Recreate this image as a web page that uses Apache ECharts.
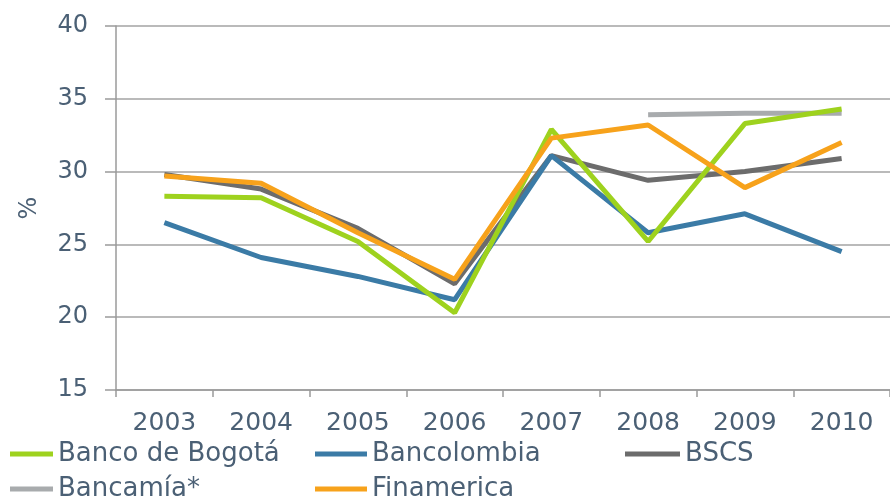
<!DOCTYPE html>
<html>
<head>
<meta charset="utf-8">
<script src="https://cdn.jsdelivr.net/npm/echarts@6/dist/echarts.min.js"></script>
<style>html,body{margin:0;padding:0;background:#fff;}#c{width:890px;height:500px;}</style>
</head>
<body>
<div id="c"></div>
<script>
var years = ['2003','2004','2005','2006','2007','2008','2009','2010'];
var bancoBogota = [28.3, 28.2, 25.2, 20.3, 32.9, 25.2, 33.3, 34.3];
var bancolombia = [26.5, 24.1, 22.8, 21.2, 31.1, 25.8, 27.1, 24.5];
var bscs        = [29.8, 28.8, 26.1, 22.3, 31.1, 29.4, 30.0, 30.9];
var bancamia    = [null, null, null, null, null, 33.9, 34.0, 34.0];
var finamerica  = [29.7, 29.2, 25.8, 22.6, 32.3, 33.2, 28.9, 32.0];
var yTicks = [15, 20, 25, 30, 35, 40];

var txt = '#4b6075';
var font = 'DejaVu Sans';
var colors = {
  'Banco de Bogotá': '#9ed21e',
  'Bancolombia': '#3b7ba6',
  'BSCS': '#6c6c6c',
  'Bancamía*': '#a8abad',
  'Finamerica': '#f7a21b'
};
function mk(name, data) {
  return {
    name: name, type: 'line', data: data, symbol: 'none',
    lineStyle: {width: 5, color: colors[name]}, itemStyle: {color: colors[name]},
    connectNulls: false, animation: false
  };
}
var legText = {color: txt, fontFamily: font, fontSize: 26, lineHeight: 26};
function leg(name, left, top, w) {
  return {left: left, top: top, icon: 'rect', itemWidth: w, itemHeight: 5, padding: 0,
          data: [name], textStyle: legText};
}
var chart = echarts.init(document.getElementById('c'), null, {renderer: 'canvas'});
chart.setOption({
  animation: false,
  grid: {left: 116, right: -8, top: 26, bottom: 110},
  xAxis: {
    type: 'category', data: years, boundaryGap: true,
    axisLine: {lineStyle: {color: '#9a9a9a', width: 1.5}},
    axisTick: {show: true, length: 7, lineStyle: {color: '#9a9a9a', width: 1.5}},
    axisLabel: {color: txt, fontFamily: font, fontSize: 25, margin: 21}
  },
  yAxis: {
    type: 'value', min: yTicks[0], max: yTicks[yTicks.length-1], interval: 5,
    name: '%', nameLocation: 'middle', nameRotate: 90, nameGap: 74,
    nameTextStyle: {color: txt, fontFamily: font, fontSize: 24},
    axisLine: {show: true, lineStyle: {color: '#9a9a9a', width: 1.5}},
    axisTick: {show: true, length: 11, lineStyle: {color: '#9a9a9a', width: 1.5}},
    splitLine: {lineStyle: {color: '#a3a3a3', width: 1.5}},
    axisLabel: {color: txt, fontFamily: font, fontSize: 24, margin: 28}
  },
  legend: [
    leg('Banco de Bogotá', 10, 441, 43),
    leg('Bancamía*', 10, 476, 43),
    leg('Bancolombia', 315, 441, 52),
    leg('Finamerica', 315, 476, 52),
    leg('BSCS', 625, 441, 55)
  ],
  series: [
    mk('BSCS', bscs),
    mk('Bancamía*', bancamia),
    mk('Bancolombia', bancolombia),
    mk('Banco de Bogotá', bancoBogota),
    mk('Finamerica', finamerica)
  ]
});
</script>
</body>
</html>
